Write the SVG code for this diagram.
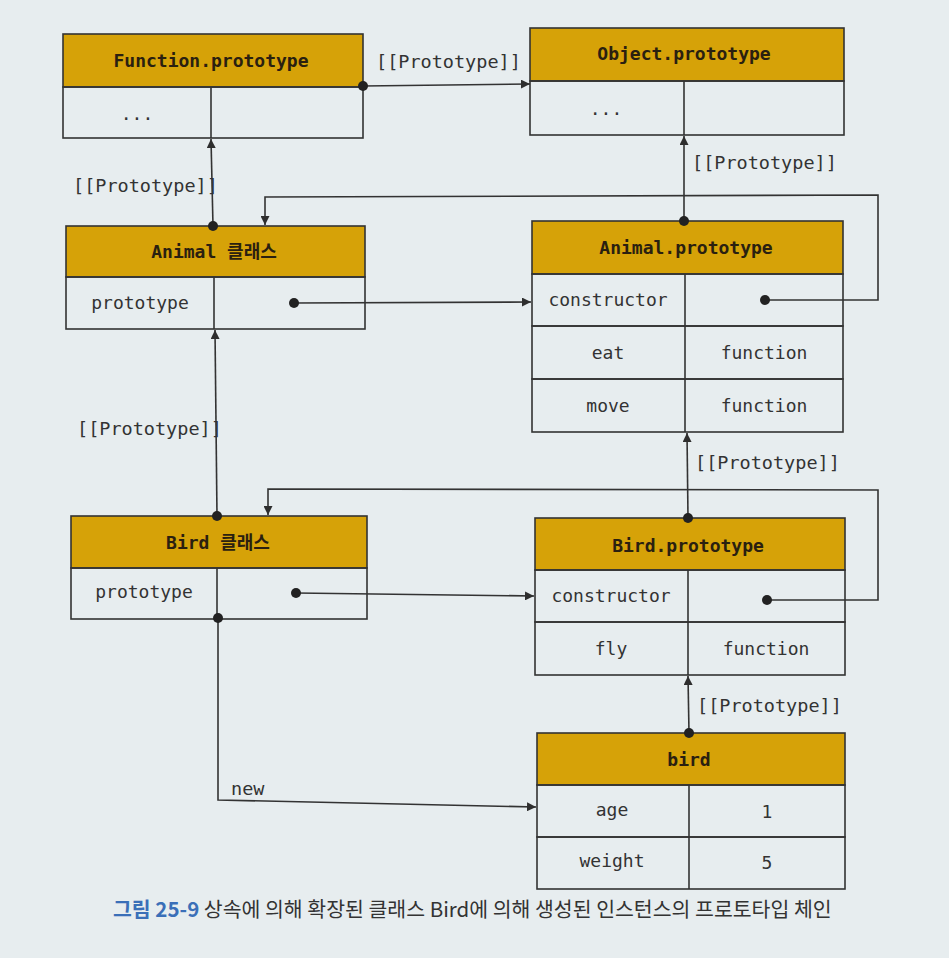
<svg xmlns="http://www.w3.org/2000/svg" width="949" height="958" viewBox="0 0 949 958">
<defs>
<marker id="arr" viewBox="0 0 10 10" refX="10" refY="5" markerWidth="9" markerHeight="9" markerUnits="userSpaceOnUse" orient="auto"><path d="M0,0 L10,5 L0,10 z" fill="#2e2e2e"/></marker>
<style>
.hdr{fill:#d6a208;stroke:#333;stroke-width:1.6}
.cell{fill:none;stroke:#333;stroke-width:1.6}
.ln{fill:none;stroke:#333;stroke-width:1.6}
.dot{fill:#222}
.ht{font-family:"DejaVu Sans Mono","Noto Sans CJK KR",monospace;font-size:18px;font-weight:bold;fill:#2a2010;text-anchor:middle}
.ct{font-family:"DejaVu Sans Mono","Noto Sans CJK KR",monospace;font-size:18px;fill:#333;text-anchor:middle}
.lb{font-family:"DejaVu Sans Mono",monospace;font-size:18.5px;fill:#333}
.cap{font-family:"Noto Sans CJK KR",sans-serif;font-size:20.5px;fill:#333}
</style>
</defs>
<rect width="949" height="958" fill="#e7edef"/>

<g id="function-prototype">
<rect class="hdr" x="63" y="34" width="300" height="53"/>
<rect class="cell" x="63" y="87" width="300" height="51"/>
<line class="cell" x1="211" y1="87" x2="211" y2="138"/>
<text class="ht" x="211" y="67">Function.prototype</text>
<text class="ct" x="137" y="120">...</text>
</g>

<g id="object-prototype">
<rect class="hdr" x="530" y="28" width="314" height="53"/>
<rect class="cell" x="530" y="81" width="314" height="54"/>
<line class="cell" x1="684" y1="81" x2="684" y2="135"/>
<text class="ht" x="684" y="60">Object.prototype</text>
<text class="ct" x="606" y="115">...</text>
</g>

<g id="animal-class">
<rect class="hdr" x="66" y="226" width="299" height="51"/>
<rect class="cell" x="66" y="277" width="299" height="52"/>
<line class="cell" x1="214" y1="277" x2="214" y2="329"/>
<text class="ht" x="214" y="258">Animal 클래스</text>
<text class="ct" x="140" y="309">prototype</text>
</g>

<g id="animal-prototype">
<rect class="hdr" x="532" y="221" width="311" height="53"/>
<rect class="cell" x="532" y="274" width="311" height="52"/>
<rect class="cell" x="532" y="326" width="311" height="53"/>
<rect class="cell" x="532" y="379" width="311" height="53"/>
<line class="cell" x1="685" y1="274" x2="685" y2="432"/>
<text class="ht" x="686" y="254">Animal.prototype</text>
<text class="ct" x="608" y="306">constructor</text>
<text class="ct" x="608" y="359">eat</text>
<text class="ct" x="764" y="359">function</text>
<text class="ct" x="608" y="412">move</text>
<text class="ct" x="764" y="412">function</text>
</g>

<g id="bird-class">
<rect class="hdr" x="71" y="516" width="296" height="52"/>
<rect class="cell" x="71" y="568" width="296" height="51"/>
<line class="cell" x1="217" y1="568" x2="217" y2="619"/>
<text class="ht" x="218" y="549">Bird 클래스</text>
<text class="ct" x="144" y="598">prototype</text>
</g>

<g id="bird-prototype">
<rect class="hdr" x="535" y="518" width="310" height="52"/>
<rect class="cell" x="535" y="570" width="310" height="52"/>
<rect class="cell" x="535" y="622" width="310" height="53"/>
<line class="cell" x1="688" y1="570" x2="688" y2="675"/>
<text class="ht" x="688" y="552">Bird.prototype</text>
<text class="ct" x="611" y="602">constructor</text>
<text class="ct" x="611" y="655">fly</text>
<text class="ct" x="766" y="655">function</text>
</g>

<g id="bird">
<rect class="hdr" x="537" y="733" width="308" height="52"/>
<rect class="cell" x="537" y="785" width="308" height="52"/>
<rect class="cell" x="537" y="837" width="308" height="52"/>
<line class="cell" x1="689" y1="785" x2="689" y2="889"/>
<text class="ht" x="689" y="766">bird</text>
<text class="ct" x="612" y="816">age</text>
<text class="ct" x="767" y="818">1</text>
<text class="ct" x="612" y="867">weight</text>
<text class="ct" x="767" y="869">5</text>
</g>

<g id="connectors">
<line class="ln" x1="363" y1="86" x2="530" y2="84" marker-end="url(#arr)"/>
<circle class="dot" cx="363" cy="86" r="5"/>
<text class="lb" x="376" y="68">[[Prototype]]</text>
<line class="ln" x1="213" y1="226" x2="211" y2="139" marker-end="url(#arr)"/>
<circle class="dot" cx="213" cy="226" r="5"/>
<text class="lb" x="73" y="192">[[Prototype]]</text>
<line class="ln" x1="684" y1="221" x2="684" y2="136" marker-end="url(#arr)"/>
<circle class="dot" cx="684" cy="221" r="5"/>
<text class="lb" x="692" y="169">[[Prototype]]</text>
<polyline class="ln" points="765,300 878,300 878,195 265,197 265,225" marker-end="url(#arr)"/>
<circle class="dot" cx="765" cy="300" r="5"/>
<line class="ln" x1="294" y1="303" x2="531" y2="302" marker-end="url(#arr)"/>
<circle class="dot" cx="294" cy="303" r="5"/>
<line class="ln" x1="217" y1="516" x2="215" y2="330" marker-end="url(#arr)"/>
<circle class="dot" cx="217" cy="516" r="5"/>
<text class="lb" x="77" y="435">[[Prototype]]</text>
<line class="ln" x1="688" y1="518" x2="687" y2="433" marker-end="url(#arr)"/>
<circle class="dot" cx="688" cy="518" r="5"/>
<text class="lb" x="695" y="469">[[Prototype]]</text>
<polyline class="ln" points="767,600 878,600 878,490 268,489 268,515" marker-end="url(#arr)"/>
<circle class="dot" cx="767" cy="600" r="5"/>
<line class="ln" x1="296" y1="593" x2="534" y2="596" marker-end="url(#arr)"/>
<circle class="dot" cx="296" cy="593" r="5"/>
<line class="ln" x1="689" y1="733" x2="688" y2="676" marker-end="url(#arr)"/>
<circle class="dot" cx="689" cy="733" r="5"/>
<text class="lb" x="697" y="712">[[Prototype]]</text>
<polyline class="ln" points="218,618 218,800 536,807" marker-end="url(#arr)"/>
<circle class="dot" cx="218" cy="618" r="5"/>
<text class="lb" x="231" y="795">new</text>
</g>

<text class="cap" x="113" y="917"><tspan fill="#3a6fb8" font-weight="bold">그림 25-9</tspan> 상속에 의해 확장된 클래스 Bird에 의해 생성된 인스턴스의 프로토타입 체인</text>
</svg>
